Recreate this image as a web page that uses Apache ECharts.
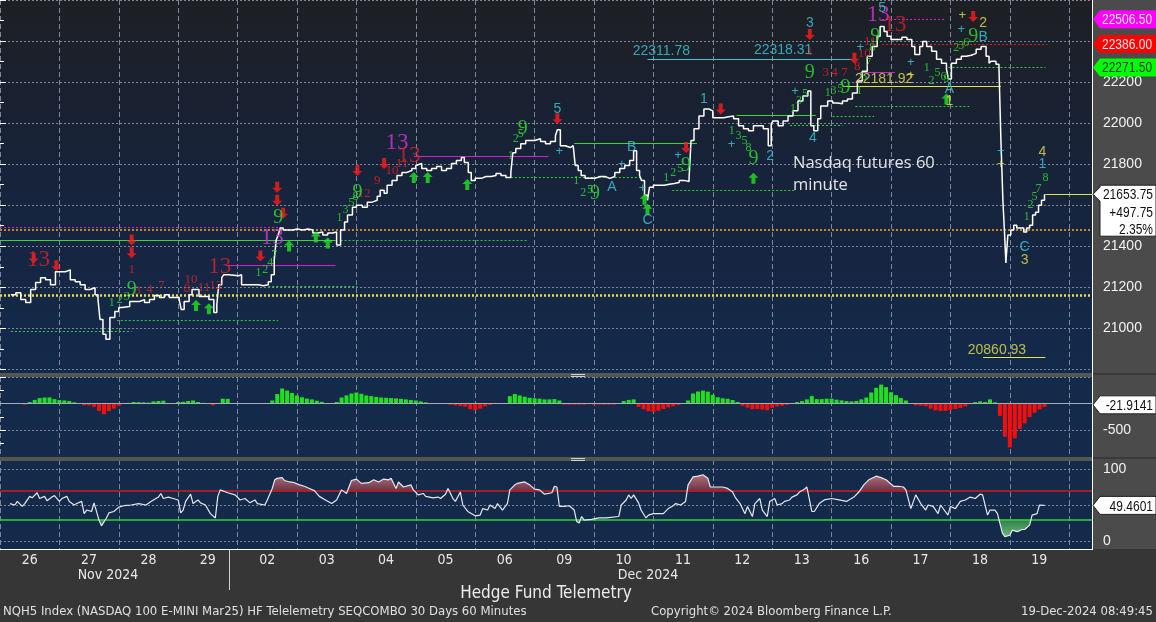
<!DOCTYPE html>
<html><head><meta charset="utf-8">
<script src="https://cdn.jsdelivr.net/npm/echarts@6/dist/echarts.min.js"></script>
<style>html,body{margin:0;padding:0;background:#363636;overflow:hidden}#c{width:1156px;height:622px}</style>
</head><body><div id="c"></div><script>
// ---------------- DATA ----------------
// time axis in hours from the start of the 26-Nov session (24 h per trading day)
const dayLabels = ['26','27','28','29','02','03','04','05','06','09','10','11','12','13','16','17','18','19'];
const priceTickLabels = [21000, 21200, 21400, 21800, 22000, 22200];
const histTickLabels = [-500];
const oscTickLabels = [0, 100];
const oscGridLevels = [0, 50, 100];
const oscUpper = 70, oscLower = 30;

const price = [[4.4,21164],[6.4,21174],[8.4,21140],[10.4,21126],[12.4,21189],[14.4,21223],[16.4,21247],[18.4,21237],[20.4,21213],[22.4,21276],
[24.4,21276],[26.4,21285],[28.4,21237],[30.4,21227],[32.4,21213],[34.4,21189],[36.4,21198],[38.4,21164],[39.6,21140],[40.4,21043],[41.6,20971],[42.8,20947],[44.4,21053],[46.4,21082],
[48,21102],[49.2,21106],[52.4,21131],[56.4,21140],[58.4,21126],[60.4,21140],[62.4,21160],[64.4,21150],[66.4,21164],[68.4,21150],
[72.4,21140],[73.2,21092],[74.4,21131],[76.4,21164],[77.6,21189],[80.4,21155],[82.4,21155],[84.4,21140],[86.4,21077],[87.6,21116],[88.4,21213],[89.6,21247],[90.4,21261],[92.4,21256],
[96.4,21261],[97.6,21213],[100.4,21213],[104.4,21208],[106.4,21213],[108.4,21227],[109.6,21261],[110.8,21334],[111.6,21431],[112.4,21455],[113.2,21489],[114.4,21479],[116.4,21479],[118.4,21484],
[120,21479],[122.4,21484],[124.4,21479],[126.4,21465],[128.4,21469],[130.4,21455],[132.4,21465],[134.4,21469],[136,21406],[137.6,21479],[139.2,21518],[140.4,21552],[142.4,21590],
[144,21600],[146.4,21590],[148.4,21615],[150.4,21624],[152.4,21644],[153.6,21673],[155.2,21658],[156.4,21697],[158.4,21721],[160.4,21745],[162.4,21760],[164.4,21769],[166.4,21779],
[168,21794],[168.4,21803],[170.4,21779],[172.4,21769],[174.4,21779],[176.4,21789],[178.4,21769],[180.4,21779],[182.4,21803],[184.4,21818],[186.4,21832],[187.6,21808],[189.2,21760],[190.4,21721],
[192,21731],[194.4,21740],[196.4,21740],[198.4,21745],[200.4,21755],[202.4,21745],[204.4,21735],[206.4,21760],[207.2,21856],[208.4,21876],[210.4,21900],[212.4,21915],[214.4,21915],
[216,21924],[218.4,21910],[220.4,21900],[222.4,21910],[224.4,21939],[225.2,21968],[226.4,21890],[228.4,21881],[230.4,21890],[231.6,21890],[232.4,21794],[233.6,21769],[234.8,21745],[236.4,21731],[238.4,21731],
[240.4,21740],[242.4,21740],[244.4,21731],[246.4,21740],[248.4,21760],[250.4,21779],[252.4,21794],[254.4,21818],[256,21866],[257.2,21769],[258.4,21745],[259.2,21721],[260.4,21648],[261.6,21624],[262.4,21687],
[264,21697],[266.4,21697],[268.4,21702],[270.4,21706],[272.4,21711],[274.4,21721],[276.4,21716],[278.4,21731],[279.2,21915],[280.4,21973],[282.4,22035],[284.4,22069],[286.4,22060],
[288,22026],[290.4,22026],[292.4,22031],[294.4,22035],[296.4,22021],[298.4,21987],[300.4,21973],[302.4,21963],[304.4,21987],[306.4,21987],[308.4,21973],[310.4,21890],[311.6,21997],
[312.4,22011],[314.4,21987],[316.4,22011],[318.4,22035],[320.4,22060],[322.4,22108],[324.4,22132],[326.4,22156],[327.6,21987],[328.8,21963],[330.4,22021],[331.6,22084],[333.2,22084],[334.4,22108],
[336.4,22098],[338.4,22094],[340.4,22108],[342.4,22118],[344.4,22147],[346.4,22205],[348.4,22253],[350.4,22326],[352.4,22374],[354.4,22423],[355.6,22471],[357.2,22447],[358.4,22423],
[360,22408],[362.4,22408],[364.4,22418],[366.4,22408],[368.4,22374],[369.6,22335],[371.6,22374],[372.8,22398],[374.4,22374],[376.4,22350],[378.4,22311],[380.4,22292],[382.4,22263],[383.2,22215],
[384.4,22292],[386.4,22311],[388.4,22326],[390.4,22331],[392.4,22340],[394.4,22360],[396.4,22374],[398.4,22326],[399.6,22292],[400.4,22302],[402.4,22287],[403.6,22277],[404.4,21915],[405.2,21624],[406,21431],[406.4,21319],[407.2,21455],
[408.4,21479],[409.6,21503],[410.8,21489],[412.4,21489],[413.6,21469],[414.8,21489],[416,21503],[417.2,21552],[418.4,21566],[419.6,21600],[420.8,21624],[422,21653.75]];

// histogram: one bar every 2 hours starting at hour 4
const histStart = 4, histStep = 2;
const hist = [0,5,5,-18,30,70,105,115,117,85,
68,60,49,25,5,-31,-31,-60,-136,-200,-140,-93,
-40,5,15,31,28,25,20,43,50,56,10,0,
31,35,50,60,31,15,5,-31,0,93,90,5,
10,0,0,0,0,0,5,60,180,284,245,200,
154,120,95,80,55,35,10,0,31,115,155,191,
210,185,154,142,125,115,110,105,98,90,80,70,
60,43,25,10,0,0,0,-18,-31,-45,-56,-105,
-123,-93,-50,-20,0,0,0,140,182,154,130,110,
100,93,80,80,85,60,-18,-18,-18,-18,-18,-10,
-18,-18,-18,-18,-18,10,49,70,80,-60,-105,-142,
-154,-135,-100,-70,-50,-25,0,60,190,228,245,225,
165,120,100,92,68,31,-40,-74,-105,-100,-110,-123,
-80,-50,-40,-20,-5,30,49,80,142,85,85,93,
93,75,62,49,43,50,80,115,210,296,358,310,
215,160,105,60,0,-31,-38,-48,-93,-125,-136,-136,
-120,-100,-80,-50,-10,30,43,31,80,25,-228,-620,
-820,-650,-475,-370,-250,-170,-110,-60];

const osc = [[4,52],[6,50],[7,55],[9,48],[10,52],[12,62],[13,60],[15,67],[16,59],[18,62],[19,56],[21,61],[22,63],[24,55],[25,59],[27,62],[28,55],[30,50],[31,52],[33,55],[34,38],[35,43],[37,41],[38,53],[40,29],[41,21],[43,32],[44,39],[46,41],[48,47],[50,49],[53,50],[56,52],[59,50],[61,55],[64,61],[65,66],[66,59],[68,61],[70,59],
[72,57],[73,39],[74,43],[75,55],[77,65],[78,52],[80,57],[81,53],[83,50],[85,38],[87,32],[88,62],[89,71],[92,67],[95,64],[97,57],[99,59],[101,53],[103,57],[104,52],[107,50],[108,57],[110,73],[111,85],[112,87],[114,88],[115,84],[117,82],[119,81],[121,78],[123,76],[125,73],[127,70],[129,62],[132,56],[134,52],[136,57],[138,71],[140,66],[142,84],
[144,86],[146,80],[149,81],[151,85],[153,82],[155,86],[157,85],[158,87],[160,73],[161,82],[163,75],[166,78],[167,71],[169,64],[171,66],[172,62],[175,60],[177,61],[178,59],[180,65],[181,73],[183,59],[184,55],[186,68],[187,50],[189,41],[192,35],[194,36],[195,45],[197,43],[198,50],[200,45],[201,52],[203,43],[205,52],[206,71],[208,78],[209,80],[212,82],[214,78],
[216,72],[218,71],[220,65],[223,67],[224,76],[225,75],[226,48],[228,48],[230,49],[232,43],[233,27],[234,25],[235,34],[236,29],[239,30],[242,32],[245,32],[250,34],[251,50],[253,57],[254,64],[255,59],[256,64],[258,53],[259,43],[261,32],[262,36],[264,38],[266,38],[268,38],[270,45],[272,49],[273,52],[275,50],[277,55],[278,78],[280,89],[282,90],[284,92],[286,87],
[287,75],[289,75],[292,75],[294,73],[296,68],[297,61],[299,52],[301,38],[302,48],[304,34],[305,52],[307,59],[308,43],[310,34],[311,55],[313,59],[314,50],[316,52],[317,55],[319,57],[320,61],[322,64],[323,68],[325,72],[326,75],[328,41],[329,41],[331,52],[333,57],[336,59],[339,57],[342,55],[345,61],[347,68],[349,78],[351,85],[354,90],[356,88],[358,85],
[361,76],[363,76],[365,75],[366,71],[368,45],[370,64],[372,52],[374,43],[375,50],[377,48],[379,38],[380,50],[383,36],[384,48],[386,45],[388,55],[390,57],[392,61],[394,59],[396,65],[397,64],[399,36],[400,43],[402,43],[403,38],[405,11],[406,6],[408,8],[409,15],[411,13],[413,16],[414,16],[416,22],[417,36],[419,38],[420,50],[422,49.46]];

// reference levels [from hour, to hour, price]
const greenDottedLevels = [[4.4,53.2,20985],[47.2,112.4,21038],[108.4,144.4,21203],[137.6,213.6,21431],[206.4,259.6,21735],[271.6,321.6,21673],[319.2,340.4,21992],[336.4,353.2,22035],[345.6,392.4,22084]];
const greenSolidLevels = [[0,135.6,21431],[232,281.6,21900],[297.6,329.6,22040]];
const magentaSolidLevels = [[91.2,135.6,21309],[167.2,221.6,21837],[347.2,361.6,22248]];
const magentaDashedLevels = [[0,112.4,21492],[356.4,381.6,22506.5]];
const redDashedLevels = [[356.4,423.2,22386]];
const greenDashedLevels = [[383.2,422.4,22271.5]];
const cyanLevels = [[261.6,344.4,22311.78]];
const yellowLevels = [[340.4,404.4,22181.92],[397.2,422.4,20860.93],[422.4,441.2,21653.75]];
const orangeDottedLevels = [[0,441.2,21479]];
const yellowDottedLevels = [[0,441.2,21160]];

const cyanValueLabels = [[267.2,22311.78,'22311.78'],[316.4,22318.31,'22318.31']];
const yellowValueLabels = [[357.2,22181.92,'22181.92'],[402.8,20860.93,'20860.93']];

// sequential count annotations [hour, price, text]
const redBig = [[15.6,21334,'13'],[88.8,21300,'13'],[165.2,21842,'13'],[361.6,22476,'13']];
const magentaBig = [[160.4,21905,'13'],[110,21440,'13'],[354.8,22529,'13']];
const redSmall = [[53.2,21285,'1'],[327.2,22350,'1'],[55.6,21184,'3'],[60.4,21189,'4'],[65.2,21208,'7'],[75.6,21193,'8'],[77.2,21237,'10'],[82.4,21198,'11'],[87.2,21208,'12'],[147.2,21658,'12'],[152.4,21721,'9'],[158.4,21769,'10'],[162.4,21803,'11'],[333.6,22244,'3'],[337.2,22244,'4'],[341.2,22244,'7'],[346.4,22277,'8'],[349.2,22340,'10'],[351.6,22398,'11']];
const greenBig = [[53.2,21189,'9'],[112.4,21537,'9'],[144.4,21663,'9'],[211.2,21973,'9'],[240.4,21658,'9'],[277.2,21794,'9'],[304.4,21827,'9'],[327.2,22244,'9'],[341.6,22171,'9'],[353.6,22423,'9'],[393.2,22423,'9']];
const greenSmall = [[45.2,21126,'1'],[48.4,21140,'2'],[51.2,21155,'3'],[104.4,21271,'1'],[107.2,21285,'2'],[109.2,21319,'4'],[110.8,21358,'7'],[137.2,21537,'1'],[139.6,21576,'3'],[142,21610,'5'],[143.6,21643,'8'],[206.4,21842,'1'],[208.4,21924,'2'],[210.4,21948,'5'],[232.8,21721,'1'],[235.6,21658,'2'],[238.4,21673,'5'],[269.2,21735,'1'],[272,21760,'2'],[274.8,21779,'5'],[295.6,21963,'1'],[298.4,21939,'3'],[300.8,21914,'5'],[302.4,21881,'8'],[320.4,22069,'1'],[322.8,22108,'3'],[325.2,22142,'5'],[334.4,22147,'1'],[336.8,22156,'3'],[339.6,22166,'5'],[347.2,22156,'1'],[349.2,22224,'5'],[350.8,22292,'7'],[352.4,22365,'8'],[374.4,22268,'1'],[376.4,22205,'2'],[378.8,22244,'5'],[381.2,22224,'6'],[382.4,22215,'9'],[386.4,22365,'2'],[388.4,22379,'3'],[390.4,22389,'6'],[414.8,21542,'1'],[416.4,21600,'2'],[418,21639,'5'],[419.6,21682,'7'],[422.4,21731,'8']];
const cyanLabels = [[225.2,22069,'5'],[284.4,22118,'1'],[311.2,21837,'2'],[327.2,22486,'3'],[328.4,21929,'4'],[356.4,22558,'5'],[247.2,21687,'A'],[255.2,21885,'B'],[261.6,21527,'C'],[383.6,22166,'A'],[397.2,22418,'B'],[414,21397,'C'],[421.2,21798,'1']];
const cyanPlus = [[226,21861],[251.2,21798],[259.6,21682],[274,21842],[295.6,21895],[321.2,22156],[347.6,22369],[368,22297],[388.4,22456],[404.4,21861]];
const yellowLabels = [[397.2,22486,'2'],[383.6,22108,'1'],[421.2,21861,'4'],[414,21334,'3']];
const yellowPlus = [[388.8,22524],[404.4,21798],[368,22234]];
const arrowsDown = [[13.6,21343],[22.8,21305],[53.2,21430],[53.2,21368],[105.2,21353],[112,21687],[112,21624],[114.4,21561],[144.4,21769],[155.2,21803],[225.2,22021],[277.2,21881],[291.2,22069],[327.2,22432],[345.2,22316],[393.2,22519]];
const arrowsUp = [[79.2,21111],[84.4,21096],[116.8,21401],[127.6,21445],[132.4,21416],[167.2,21735],[172.8,21735],[188.8,21701],[260.4,21629],[261.6,21580],[304.4,21731],[382.4,22118]];

const lastPrice = 21653.75, lastChange = '+497.75', lastPct = '2.35%';
const tagHigh = 22506.50, tagRed = 22386.00, tagGreen = 22271.50;
const histLast = -21.9141, oscLast = 49.4601;

// ---------------- STYLE ----------------
const SANS = '"Liberation Sans", Arial, sans-serif';
const SERIF = '"Liberation Serif", "DejaVu Serif", serif';
const NARROW = '"Liberation Sans Narrow", "DejaVu Sans Condensed", sans-serif';
const OPEN = '"Open Sans", sans-serif';
const GRIDC = '#7d869e';
const XMAX = 441.2;

function xAxis(gi){
  return {type:'value', gridIndex:gi, min:0, max:XMAX, interval:24,
    axisLine:{show:false}, axisTick:{show:false}, axisLabel:{show:false},
    splitLine:{show:true, lineStyle:{color:GRIDC, type:[5,3], width:1}}};
}
function yBase(gi, min, max, interval, labels, split){
  return {type:'value', gridIndex:gi, position:'right', min, max, interval,
    axisLine:{show:false},
    axisTick:{show:split, length:6, lineStyle:{color:'#ffffff'}},
    minorTick:{show:split, splitNumber:2, length:4, lineStyle:{color:'#ffffff'}},
    axisLabel:{color:'#f2f2f2', fontFamily:SANS, fontSize:14, margin:11,
      formatter:v => labels.includes(v) ? String(v) : ''},
    splitLine:{show:split, lineStyle:{color:GRIDC, type:[2,2], width:1}}};
}
function levelItems(arr, style){
  return arr.map(a => [{coord:[a[0],a[2]], lineStyle:style},{coord:[a[1],a[2]]}]);
}
function textSeries(arr, color, size, family, offset){
  return {type:'scatter', xAxisIndex:0, yAxisIndex:0, silent:true, z:8,
    data:arr.map(a=>({value:[a[0],a[1]], name:a[2]})),
    symbolSize:1, itemStyle:{color:'rgba(0,0,0,0)'},
    label:{show:true, position:'inside', formatter:'{b}', color, fontSize:size, fontFamily:family, offset:offset||[0,0]}};
}
function arrowSeries(arr, path, color){
  return {type:'scatter', xAxisIndex:0, yAxisIndex:0, silent:true, z:8,
    data:arr, symbol:path, symbolSize:[10,11], itemStyle:{color}};
}
// polygon between the oscillator line and a threshold (above or below it)
function bandPoints(level, above){
  const pts = [];
  for (let i = 0; i < osc.length; i++){
    const t = osc[i][0], v = osc[i][1];
    if (i > 0){
      const t0 = osc[i-1][0], v0 = osc[i-1][1];
      if ((v0-level)*(v-level) < 0){ pts.push([t0 + (t-t0)*(level-v0)/(v-v0), level]); }
    }
    pts.push([t, above ? Math.max(v, level) : Math.min(v, level)]);
  }
  pts.push([osc[osc.length-1][0], level]);
  pts.push([osc[0][0], level]);
  return pts;
}
function bandSeries(level, above, fill){
  const pts = bandPoints(level, above);
  return {type:'custom', xAxisIndex:2, yAxisIndex:2, silent:true, z:3, data:[[pts[0][0], level]],
    renderItem:(params, api) => ({type:'polygon', shape:{points:pts.map(p => api.coord(p))}, style:{fill}})};
}

const levels = [].concat(
  levelItems(orangeDottedLevels, {color:'#c8861e', type:[2,2], width:2}),
  levelItems(yellowDottedLevels, {color:'#e6e04a', type:[2,2], width:2.5}),
  levelItems(greenDottedLevels, {color:'#2fcf2f', type:[2,2], width:1}),
  levelItems(greenSolidLevels, {color:'#39d639', type:'solid', width:1.2}),
  levelItems(magentaSolidLevels, {color:'#d21fd2', type:'solid', width:1.2}),
  levelItems(magentaDashedLevels, {color:'#d21fd2', type:[2,2], width:1}),
  levelItems(redDashedLevels, {color:'#e02020', type:[2,2], width:1}),
  levelItems(greenDashedLevels, {color:'#2fcf2f', type:[2,2], width:1}),
  levelItems(cyanLevels, {color:'#3ec8d8', type:'solid', width:1.2}),
  levelItems(yellowLevels, {color:'#e6e04a', type:'solid', width:1.2})
);

const histData = hist.map((v,i)=>({value:[histStart+i*histStep, v], itemStyle:{color: v>=0 ? '#1fe01f' : '#f01010'}}));

const option = {
  backgroundColor:'transparent',
  animation:false,
  grid:[
    {left:-11, top:-0.5, width:1103, height:369.9},
    {left:-11, top:377, width:1103, height:80},
    {left:-11, top:460, width:1103, height:90},
    {left:-11, top:549, width:1080, height:1}
  ],
  xAxis:[xAxis(0), xAxis(1), xAxis(2),
    {type:'category', gridIndex:3, data:dayLabels, axisLine:{show:false}, axisTick:{show:false}, splitLine:{show:false},
     axisLabel:{color:'#e8e8e8', fontFamily:NARROW, fontSize:14, margin:3}}],
  yAxis:[
    yBase(0, 20800, 22600, 200, priceTickLabels, true),
    yBase(1, -1000, 500, 500, histTickLabels, true),
    Object.assign(yBase(2, -12.5, 112.5, 12.5, oscTickLabels, false), {axisTick:{show:false}}),
    {type:'value', gridIndex:3, show:false}
  ],
  series:[
    {type:'line', xAxisIndex:0, yAxisIndex:0, data:price, step:'end', showSymbol:false, silent:true, z:6,
     lineStyle:{color:'#ffffff', width:1.5},
     markLine:{silent:true, symbol:['none','none'], label:{show:false}, data:levels}},
    textSeries(cyanValueLabels, '#3ec8d8', 14, SANS, [0,-8]),
    textSeries(yellowValueLabels, '#e6e04a', 14, SANS, [0,-7]),
    arrowSeries(arrowsDown, 'path://M3,0 H7 V6 H10 L5,11 L0,6 H3 Z', '#ff1a1a'),
    arrowSeries(arrowsUp, 'path://M5,0 L10,5 H7 V11 H3 V5 H0 Z', '#1ee61e'),
    textSeries(greenSmall, '#2ee02e', 12, SERIF),
    textSeries(redSmall, '#e3202a', 13, SERIF),
    textSeries(greenBig, '#2ee02e', 20, SERIF),
    textSeries(magentaBig, '#d633d6', 23, SERIF),
    textSeries(redBig, '#d8202a', 23, SERIF),
    textSeries(cyanLabels, '#3ec8d8', 14, SANS),
    textSeries(cyanPlus.map(a=>[a[0],a[1],'+']), '#3ec8d8', 13, SANS),
    textSeries(yellowLabels, '#e6e04a', 14, SANS),
    textSeries(yellowPlus.map(a=>[a[0],a[1],'+']), '#e6e04a', 13, SANS),
    // histogram
    {type:'bar', xAxisIndex:1, yAxisIndex:1, data:histData, barWidth:4, silent:true,
     markLine:{silent:true, symbol:['none','none'], label:{show:false},
       data:[{yAxis:0, lineStyle:{color:'#a9adb8', type:'solid', width:1}}]}},
    // oscillator fills
    bandSeries(oscUpper, true, new echarts.graphic.LinearGradient(0,0,0,1,[{offset:0,color:'#b3707a'},{offset:1,color:'#6c3446'}])),
    bandSeries(oscLower, false, new echarts.graphic.LinearGradient(0,0,0,1,[{offset:0,color:'#2f7f48'},{offset:1,color:'#6ab67b'}])),
    {type:'line', xAxisIndex:2, yAxisIndex:2, data:osc, showSymbol:false, silent:true, z:5,
     lineStyle:{color:'#e8e8f0', width:1.2},
     markLine:{silent:true, symbol:['none','none'], label:{show:false},
       data:[].concat(oscGridLevels.map(v=>({yAxis:v, lineStyle:{color:GRIDC, type:[2,2], width:1}})),
         [{yAxis:oscUpper, lineStyle:{color:'#d41c1c', type:'solid', width:1.6}},
          {yAxis:oscLower, lineStyle:{color:'#2ed23e', type:'solid', width:1.6}}])}}
  ]
};

const chart = echarts.init(document.getElementById('c'), null, {renderer:'canvas', width:1156, height:622});
chart.setOption(option);

// ---------------- DECORATION (tags, panels, texts) ----------------
const py = v => chart.convertToPixel({yAxisIndex:0}, v);
const hy = v => chart.convertToPixel({yAxisIndex:1}, v);
const oy = v => chart.convertToPixel({yAxisIndex:2}, v);
const TAGFONT = '15px ' + SANS;
const TAGSCALE = 0.8;

function txt(text, x, y, font, fill, align, z){
  return {type:'text', silent:true, z:z||30,
    style:{text, x, y, font, fill, textAlign:align||'left', textVerticalAlign:'middle', align:align||'left', verticalAlign:'middle'}};
}
// horizontally condensed text for the axis tags
function ctxt(text, x, y, fill, align){
  return {type:'text', silent:true, z:29, x, y, scaleX:TAGSCALE, scaleY:1,
    style:{text, x:0, y:0, font:TAGFONT, fill, textAlign:align, textVerticalAlign:'middle', align, verticalAlign:'middle'}};
}
function tag(yc, fill, textColor, label){
  const h = 18;
  return [
    {type:'polygon', silent:true, z:28, shape:{points:[[1093,yc],[1100,yc-h/2],[1156,yc-h/2],[1156,yc+h/2],[1100,yc+h/2]]}, style:{fill}},
    ctxt(label, 1102, yc+0.5, textColor, 'left')
  ];
}
function whiteTag(yc, label){
  return [
    {type:'polygon', silent:true, z:28, shape:{points:[[1093,yc],[1100,yc-9],[1156,yc-9],[1156,yc+9],[1100,yc+9]]}, style:{fill:'#ffffff', stroke:'#222', lineWidth:1}},
    ctxt(label, 1153, yc+1, '#111111', 'right')
  ];
}
const yl = py(lastPrice);
const g = [
  {type:'rect', silent:true, z:-10, shape:{x:0,y:0,width:1093,height:373},
   style:{fill:new echarts.graphic.LinearGradient(0,0,0,1,[{offset:0,color:'#1d1f23'},{offset:0.45,color:'#17233a'},{offset:1,color:'#132a4c'}])}},
  {type:'rect', silent:true, z:-10, shape:{x:0,y:377,width:1093,height:80}, style:{fill:'#132a4b'}},
  {type:'rect', silent:true, z:-10, shape:{x:0,y:461,width:1093,height:88}, style:{fill:'#132a4b'}},
  {type:'rect', silent:true, z:-9, shape:{x:1093,y:0,width:63,height:549}, style:{fill:'#4b4b4b'}},
  {type:'rect', silent:true, z:20, shape:{x:0,y:373,width:1093,height:4}, style:{fill:'#56584f'}},
  {type:'rect', silent:true, z:20, shape:{x:0,y:457,width:1093,height:4}, style:{fill:'#56584f'}},
  {type:'rect', silent:true, z:20, shape:{x:1093,y:373,width:63,height:2}, style:{fill:'#3a3a3a'}},
  {type:'rect', silent:true, z:20, shape:{x:1093,y:457,width:63,height:2}, style:{fill:'#3a3a3a'}},
  {type:'rect', silent:true, z:21, shape:{x:571,y:374,width:14,height:1}, style:{fill:'#d0d0d0'}},
  {type:'rect', silent:true, z:21, shape:{x:571,y:376,width:14,height:1}, style:{fill:'#d0d0d0'}},
  {type:'rect', silent:true, z:21, shape:{x:571,y:458,width:14,height:1}, style:{fill:'#d0d0d0'}},
  {type:'rect', silent:true, z:21, shape:{x:571,y:460,width:14,height:1}, style:{fill:'#d0d0d0'}},
  {type:'line', silent:true, z:22, shape:{x1:1092.5,y1:0,x2:1092.5,y2:549.5}, style:{stroke:'#ffffff', lineWidth:1}},
  {type:'line', silent:true, z:22, shape:{x1:0,y1:549.5,x2:1093,y2:549.5}, style:{stroke:'#ffffff', lineWidth:1}},
  {type:'line', silent:true, z:22, shape:{x1:229.5,y1:550,x2:229.5,y2:590}, style:{stroke:'#cfcfcf', lineWidth:1}},
  txt('Nasdaq futures 60', 793, 163, '16.5px ' + OPEN, '#e4e4e4'),
  txt('minute', 793, 185, '16.5px ' + OPEN, '#e4e4e4'),
  txt('Nov 2024', 108, 575, '14px ' + NARROW, '#e8e8e8', 'center'),
  txt('Dec 2024', 648, 575, '14px ' + NARROW, '#e8e8e8', 'center'),
  txt('Hedge Fund Telemetry', 546, 594, '17px ' + NARROW, '#ececec', 'center'),
  txt('NQH5 Index (NASDAQ 100 E-MINI Mar25) HF Telelemetry SEQCOMBO 30 Days 60 Minutes', 3, 612, '13px ' + NARROW, '#e0e0e0'),
  txt('Copyright\u00a9 2024 Bloomberg Finance L.P.', 651, 612, '13px ' + NARROW, '#e0e0e0'),
  txt('19-Dec-2024 08:49:45', 1153, 612, '13px ' + NARROW, '#e0e0e0', 'right'),
  // last price callout
  {type:'polygon', silent:true, z:28, shape:{points:[[1093,yl],[1100,yl-7],[1100,yl-9],[1156,yl-9],[1156,yl+42],[1100,yl+42],[1100,yl+7]]}, style:{fill:'#ffffff', stroke:'#222', lineWidth:1}},
  ctxt(lastPrice.toFixed(2), 1153, yl+1, '#111', 'right'),
  ctxt(lastChange, 1153, yl+19, '#111', 'right'),
  ctxt(lastPct, 1153, yl+36, '#111', 'right')
].concat(
  tag(py(tagHigh), '#ff00ff', '#ffe8ff', tagHigh.toFixed(2)),
  tag(py(tagRed), '#ff0000', '#ffe8e8', tagRed.toFixed(2)),
  tag(py(tagGreen), '#00ff00', '#003000', tagGreen.toFixed(2)),
  whiteTag(hy(histLast), String(histLast)),
  whiteTag(oy(oscLast), String(oscLast))
);
chart.setOption({graphic:{elements:g}});
</script></body></html>
